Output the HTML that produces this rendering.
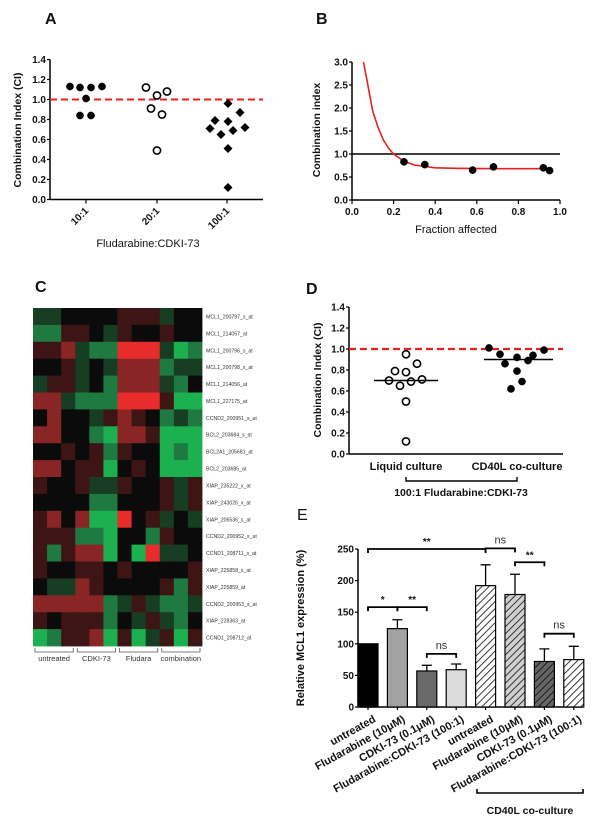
<!DOCTYPE html>
<html><head><meta charset="utf-8"><style>
html,body{margin:0;padding:0;background:#fff;}
svg{display:block;font-family:"Liberation Sans",Arial,sans-serif;}
</style></head><body>
<svg id="fig" width="600" height="826" viewBox="0 0 600 826" xmlns="http://www.w3.org/2000/svg">
<defs>
<pattern id="hatchW" width="5" height="5" patternUnits="userSpaceOnUse" patternTransform="rotate(45)"><rect width="5" height="5" fill="#fff"/><line x1="0" y1="0" x2="0" y2="5" stroke="#222" stroke-width="1.8"/></pattern>
<pattern id="hatchL" width="5" height="5" patternUnits="userSpaceOnUse" patternTransform="rotate(45)"><rect width="5" height="5" fill="#d0d0d0"/><line x1="0" y1="0" x2="0" y2="5" stroke="#222" stroke-width="1.8"/></pattern>
<pattern id="hatchD" width="5" height="5" patternUnits="userSpaceOnUse" patternTransform="rotate(45)"><rect width="5" height="5" fill="#666"/><line x1="0" y1="0" x2="0" y2="5" stroke="#111" stroke-width="1.8"/></pattern>
</defs>
</svg>
<script>
// ---------- Panel A data ----------
const aCategories = ["10:1","20:1","100:1"];
const aVals10 = [1.13,1.12,1.12,1.13,1.01,0.84,0.84];
const aJit10 = [-16,-6,5,16,0,-6,5];
const aVals20 = [1.12,1.04,1.08,0.91,0.85,0.49];
const aJit20 = [-11,0,10,-6,5,0];
const aVals100 = [0.96,0.87,0.79,0.78,0.71,0.72,0.65,0.69,0.51,0.12];
const aJit100 = [1,13,-12,1,-17,18,-6,6,1,1];
const aTicks = [0,0.2,0.4,0.6,0.8,1.0,1.2,1.4];
// ---------- Panel B data ----------
const bFa = [0.25,0.35,0.58,0.68,0.92,0.95];
const bCi = [0.83,0.77,0.65,0.72,0.70,0.64];
const bCurveFa = [0.055,0.07,0.085,0.1,0.125,0.15,0.175,0.2,0.25,0.3,0.4,0.5,0.7,0.95];
const bCurveCi = [3.0,2.65,2.28,1.93,1.58,1.31,1.13,1.0,0.84,0.76,0.70,0.69,0.68,0.68];
const bYTicks = [0,0.5,1.0,1.5,2.0,2.5,3.0];
const bXTicks = [0,0.2,0.4,0.6,0.8,1.0];
// ---------- Panel C data ----------
const cGenes = ["MCL1_200797_s_at","MCL1_214057_at","MCL1_200796_s_at","MCL1_200798_x_at","MCL1_214056_at","MCL1_227175_at","CCND2_200951_s_at","BCL2_203684_s_at","BCL2A1_205681_at","BCL2_203685_at","XIAP_235222_x_at","XIAP_243026_x_at","XIAP_206536_s_at","CCND2_200952_s_at","CCND1_208711_s_at","XIAP_225858_s_at","XIAP_225859_at","CCND2_200953_s_at","XIAP_228363_at","CCND1_208712_at"];
const cGroups = ["untreated","CDKI-73","Fludara","combination"];
const cMatrix = [
"ddkkkkrrrdkk","ggrrkdrkkrkk","rrmdggRRRdGg","kkrdkdmmmgdd","drrdkgmmmdgk",
"mmdgggRRRrGG","kmkkdrmrkgdg","mmkkgGmmrGGG","kkrkrgrkkGgG","mmkrrGkrkGGG",
"rkkrddrkkrdr","kkkkggkkkrdr","rmkmGGRkrdkd","rrrggGkkgrkk","rgrmmGkGRddk",
"rkkrrkrkkkkr","kddmrkkkkrgr","mmmmmgdrdggd","rkrrrgkdrdgk","GgrrmGrGdrGr"];
// ---------- Panel D data ----------
const dCategories = ["Liquid culture","CD40L co-culture"];
const dLiquid = [0.95,0.86,0.79,0.78,0.70,0.65,0.69,0.71,0.50,0.12];
const dLiquidJit = [0,11,-11,0,-17,-6,5,16,0,0];
const dCd40 = [1.01,0.95,0.86,0.92,0.79,0.89,0.94,0.99,0.62,0.69];
const dCd40Jit = [-28,-17,-12,0,0,11,16,27,-6,5];
const dMedians = [0.70,0.90];
// ---------- Panel E data ----------
const eLabels = ["untreated","Fludarabine (10\u03bcM)","CDKI-73 (0.1\u03bcM)","Fludarabine:CDKI-73 (100:1)","untreated","Fludarabine (10\u03bcM)","CDKI-73 (0.1\u03bcM)","Fludarabine:CDKI-73 (100:1)"];
const eMeans = [100,124,57,59,192,178,72,75];
const eErr = [0,14,9,9,33,32,20,21];
const eTicks = [0,50,100,150,200,250];
const eSig = [["**",0,4,250],["ns",4,5,251],["**",5,6,229],["*",0,1,158],["**",1,2,158],["ns",2,3,84],["ns",6,7,116]];

const svg = document.getElementById('fig');
const NS = "http://www.w3.org/2000/svg";
function mk(tag, attrs, parent, text){
  const e = document.createElementNS(NS, tag);
  for (const k in attrs) e.setAttribute(k, attrs[k]);
  if (text !== undefined) e.textContent = text;
  (parent || svg).appendChild(e);
  return e;
}
function grp(name){
  const g = mk('g', {});
  
  
  return g;
}
function label(g, x, y, t, size, anchor, extra){
  const a = {x:x, y:y, 'font-size':size, 'font-weight':'bold', 'text-anchor':anchor||'middle', fill:'#111'};
  if (extra) for (const k in extra) a[k]=extra[k];
  return mk('text', a, g, t);
}
function yAxis(g, x, y0, y1, ticks, sy, fmt){
  mk('line',{x1:x,y1:y0,x2:x,y2:y1,stroke:'#000','stroke-width':1.5},g);
  ticks.forEach(t=>{
    const y = sy(t);
    mk('line',{x1:x-3,y1:y,x2:x,y2:y,stroke:'#000','stroke-width':1.2},g);
    const tl = label(g, x-4, y+3.5, fmt(t), 10, 'end');
    
    
  });
}
function circle(g,x,y,filled,name){
  const c = mk('circle',{cx:x,cy:y,r:3.6,fill:filled?'#000':'#fff',stroke:'#000','stroke-width':filled?0.5:1.6},g);
  
  
  return c;
}

// ================= Panel A =================
(function(){
  const g = grp('panel-a');
  const t = label(g, 45, 24, 'A', 16, 'start');  
  const X0=50, X1=263, Y0=199.5, Y1=59.5;
  const sy = v => Y0 - (v/1.4)*(Y0-Y1);
  const catX = [86,157,227];
  yAxis(g, X0, Y0, Y1, aTicks, sy, v=>v.toFixed(1));
  mk('line',{x1:X0,y1:Y0,x2:X1,y2:Y0,stroke:'#000','stroke-width':1.5},g);
  aCategories.forEach((c,i)=>{
    mk('line',{x1:catX[i],y1:Y0,x2:catX[i],y2:Y0+4,stroke:'#000','stroke-width':1.2},g);
    const tl = label(g, catX[i]+3, Y0+12, c, 10, 'end', {transform:`rotate(-45 ${catX[i]+3} ${Y0+12})`});
     
  });
  const ref = mk('line',{x1:X0,y1:sy(1),x2:X1,y2:sy(1),stroke:'#e8201c','stroke-width':2,'stroke-dasharray':'7,4'},g);
   
  aVals10.forEach((v,i)=>circle(g,catX[0]+aJit10[i],sy(v),true,'point-10-1'));
  aVals20.forEach((v,i)=>circle(g,catX[1]+aJit20[i],sy(v),false,'point-20-1'));
  aVals100.forEach((v,i)=>{
    const x=catX[2]+aJit100[i], y=sy(v);
    const p = mk('polygon',{points:`${x},${y-4.5} ${x+4.5},${y} ${x},${y+4.5} ${x-4.5},${y}`,fill:'#000'},g);
     
  });
  const yl = label(g, 21, 130, 'Combination Index (CI)', 10.5, 'middle', {transform:'rotate(-90 21 130)'});
   
  const xl = label(g, 148, 247, 'Fludarabine:CDKI-73', 11, 'middle', {'font-weight':'normal'});
   
})();

// ================= Panel B =================
(function(){
  const g = grp('panel-b');
  const t = label(g, 316, 24, 'B', 16, 'start');  
  const X0=352, X1=560, Y0=200, Y1=62;
  const sx = v => X0 + v*(X1-X0);
  const sy = v => Y0 - (v/3)*(Y0-Y1);
  yAxis(g, X0, Y0, Y1, bYTicks, sy, v=>v.toFixed(1));
  mk('line',{x1:X0,y1:Y0,x2:X1,y2:Y0,stroke:'#000','stroke-width':1.5},g);
  bXTicks.forEach(v=>{
    mk('line',{x1:sx(v),y1:Y0,x2:sx(v),y2:Y0+4,stroke:'#000','stroke-width':1.2},g);
    const tl = label(g, sx(v), Y0+15, v.toFixed(1), 10);
     
  });
  const hl = mk('line',{x1:X0,y1:sy(1),x2:X1,y2:sy(1),stroke:'#000','stroke-width':1.4},g);
   
  let d = '';
  bCurveFa.forEach((f,i)=>{ d += (i?' L':'M') + sx(f).toFixed(1) + ' ' + sy(bCurveCi[i]).toFixed(1); });
  const cv = mk('path',{d:d,fill:'none',stroke:'#e8201c','stroke-width':1.6,'stroke-linejoin':'round'},g);
   
  bFa.forEach((f,i)=>circle(g,sx(f),sy(bCi[i]),true,'data-point'));
  const yl = label(g, 320, 130, 'Combination index', 10.5, 'middle', {transform:'rotate(-90 320 130)'});
   
  const xl = label(g, 456, 233, 'Fraction affected', 11, 'middle', {'font-weight':'normal'});
   
})();

// ================= Panel C =================
(function(){
  const g = grp('panel-c-heatmap');
  const t = label(g, 35, 292, 'C', 16, 'start');  
  const colors = {G:'#1db050',g:'#1f7a42',d:'#173d22',k:'#0b0b0b',r:'#3d1515',m:'#8a2525',R:'#e82c2c'};
  const X0=33, W=169/12, Y0=308, H=16.9;
  cMatrix.forEach((row,ri)=>{
    for(let ci=0;ci<row.length;ci++){
      const r = mk('rect',{x:(X0+ci*W).toFixed(2),y:(Y0+ri*H).toFixed(2),width:(W+0.4).toFixed(2),height:(H+0.4).toFixed(2),fill:colors[row[ci]]},g);
       
    }
    const tl = mk('text',{x:206,y:(Y0+ri*H+H/2+2).toFixed(1),'font-size':5.2,fill:'#333'},g,cGenes[ri]);
     
  });
  const yB = Y0+20*H;
  cGroups.forEach((gn,i)=>{
    const xa = X0+i*3*W+2, xb = X0+(i+1)*3*W-2;
    const b = mk('path',{d:`M${xa} ${yB+2} L${xa} ${yB+6} L${xb} ${yB+6} L${xb} ${yB+2}`,fill:'none',stroke:'#555','stroke-width':0.8},g);
     
    const tl = mk('text',{x:(xa+xb)/2,y:yB+15,'font-size':7.5,'text-anchor':'middle',fill:'#333'},g,gn);
     
  });
})();

// ================= Panel D =================
(function(){
  const g = grp('panel-d');
  const t = label(g, 306, 294, 'D', 16, 'start');  
  const X0=349, X1=563, Y0=454, Y1=307;
  const sy = v => Y0 - (v/1.4)*(Y0-Y1);
  const catX = [406,517];
  yAxis(g, X0, Y0, Y1, aTicks, sy, v=>v.toFixed(1));
  mk('line',{x1:X0,y1:Y0,x2:X1,y2:Y0,stroke:'#000','stroke-width':1.5},g);
  dCategories.forEach((c,i)=>{
    const tl = label(g, catX[i], Y0+16, c, 11);
     
  });
  const ref = mk('line',{x1:X0,y1:sy(1),x2:X1,y2:sy(1),stroke:'#e8201c','stroke-width':2.2,'stroke-dasharray':'7,4'},g);
   
  dLiquid.forEach((v,i)=>circle(g,catX[0]+dLiquidJit[i],sy(v),false,'point-liquid'));
  dCd40.forEach((v,i)=>circle(g,catX[1]+dCd40Jit[i],sy(v),true,'point-cd40l'));
  const halfW = [32,33];
  dMedians.forEach((m,i)=>{
    const l = mk('line',{x1:catX[i]-halfW[i],y1:sy(m),x2:catX[i]+halfW[i]+(i?3:0),y2:sy(m),stroke:'#000','stroke-width':1.6},g);
     
  });
  const br = mk('path',{d:`M${catX[0]} 477 L${catX[0]} 481 L${catX[1]} 481 L${catX[1]} 477`,fill:'none',stroke:'#000','stroke-width':1.4},g);
   
  const gl = label(g, 461, 496, '100:1 Fludarabine:CDKI-73', 10.5);
   
  const yl = label(g, 321, 380, 'Combination Index (CI)', 10.5, 'middle', {transform:'rotate(-90 321 380)'});
   
})();

// ================= Panel E =================
(function(){
  const g = grp('panel-e');
  const t = label(g, 297, 520, 'E', 16, 'start', {'font-weight':'normal'});  
  const X0=358, X1=583, Y0=707, Y1=549;
  const sy = v => Y0 - (v/250)*(Y0-Y1);
  const cx = i => 368 + i*29.4;
  const bw = 20;
  yAxis(g, X0, Y0, Y1, eTicks, sy, v=>String(v));
  mk('line',{x1:X0,y1:Y0,x2:X1,y2:Y0,stroke:'#000','stroke-width':1.5},g);
  const fills = ['#000','#a2a2a2','#6a6a6a','#dcdcdc','url(#hatchW)','url(#hatchL)','url(#hatchD)','url(#hatchW)'];
  eMeans.forEach((m,i)=>{
    const x = cx(i);
    if (eErr[i]>0){
      const e = mk('path',{d:`M${x} ${sy(m)} L${x} ${sy(m+eErr[i])} M${x-5} ${sy(m+eErr[i])} L${x+5} ${sy(m+eErr[i])}`,stroke:'#000','stroke-width':1.3,fill:'none'},g);
       
    }
    const r = mk('rect',{x:x-bw/2,y:sy(m),width:bw,height:Y0-sy(m),fill:fills[i],stroke:'#000','stroke-width':1.2},g);
     
    mk('line',{x1:x,y1:Y0,x2:x,y2:Y0+3,stroke:'#000','stroke-width':1.2},g);
    const tx = x+5, ty = Y0+8;
    const tl = label(g, tx, ty, eLabels[i], 11, 'end', {transform:`rotate(-29 ${tx} ${ty})`, 'dominant-baseline':'hanging'});
     
  });
  eSig.forEach(s=>{
    const xa=cx(s[1]), xb=cx(s[2]), y=sy(s[3]);
    const b = mk('path',{d:`M${xa} ${y+4} L${xa} ${y} L${xb} ${y} L${xb} ${y+4}`,fill:'none',stroke:'#000','stroke-width':1.8},g);
     
    const st = s[0]==='ns'
      ? mk('text',{x:(xa+xb)/2,y:y-5,'font-size':11,'text-anchor':'middle',fill:'#333'},g,'ns')
      : label(g,(xa+xb)/2,y-4,s[0],10);
     
  });
  const br = mk('path',{d:'M477 789 L477 793 L583 793 L583 789',fill:'none',stroke:'#000','stroke-width':1.6},g);
   
  const gl = label(g, 530, 814, 'CD40L co-culture', 10.5);
   
  const yl = label(g, 304, 628, 'Relative MCL1 expression (%)', 11, 'middle', {transform:'rotate(-90 304 628)'});
   
})();
</script>
</body></html>
